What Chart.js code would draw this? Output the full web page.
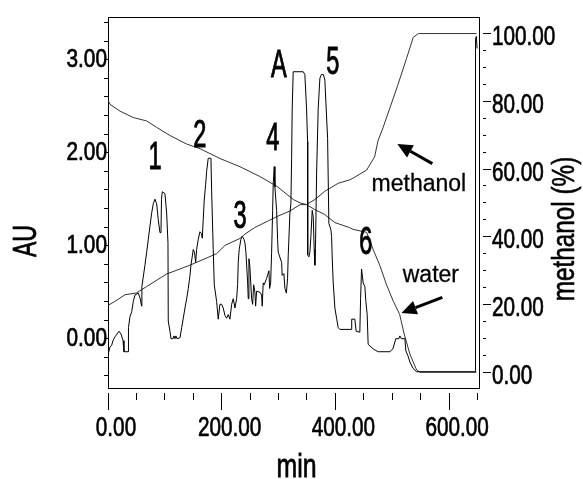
<!DOCTYPE html>
<html><head><meta charset="utf-8">
<script src="https://cdn.jsdelivr.net/npm/chart.js@4.4.1/dist/chart.umd.min.js"></script>
<style>html,body{margin:0;padding:0;background:#fff;}canvas{display:block;}</style>
</head><body>
<canvas id="c" width="583" height="479" style="width:583px;height:479px"></canvas>
<script>
// ---- data ----
const auTime = [
  0.5, 3.5, 6.5, 8.8, 12.3, 15.8, 19.3, 22.9, 26.4, 28.1,
  35.7, 36.0, 38.7, 41.7, 44.5, 47.5, 53.3, 56.3, 59.2, 59.6,
  65.0, 68.0, 70.9, 73.8, 76.8, 79.6, 82.6, 85.6, 88.4, 91.4,
  93.2, 94.1, 95.5, 100.2, 103.2, 105.5, 106.0, 109.0, 110.8, 114.3,
  116.0, 117.8, 119.5, 121.3, 126.6, 129.6, 132.4, 135.4, 138.4, 141.2,
  144.2, 145.9, 150.0, 152.1, 154.2, 155.9, 158.8, 161.7, 164.4, 165.8,
  167.5, 169.3, 171.8, 173.5, 176.3, 181.1, 182.3, 185.1, 186.9, 191.1,
  193.9, 196.9, 199.9, 202.7, 205.7, 208.7, 211.5, 214.5, 217.5, 220.3,
  223.3, 226.3, 228.0, 229.1, 230.8, 233.8, 236.1, 239.1, 240.9, 242.6,
  245.6, 246.7, 247.9, 249.6, 252.6, 254.4, 256.2, 258.4, 259.7, 261.4,
  267.2, 270.2, 271.3, 273.0, 274.8, 279.0, 283.1, 284.3, 286.1, 287.8,
  289.6, 290.6, 292.4, 293.6, 296.6, 298.3, 299.4, 305.4, 306.4, 309.4,
  311.2, 313.8, 315.9, 317.0, 320.0, 321.7, 323.0, 324.0, 325.8, 343.4,
  346.3, 349.3, 351.1, 351.3, 353.4, 355.1, 356.9, 359.2, 361.0, 362.7,
  363.9, 365.2, 366.9, 369.7, 372.7, 375.4, 378.9, 381.5, 383.3, 386.3,
  388.5, 392.1, 393.3, 394.3, 396.1, 399.1, 402.1, 404.9, 407.9, 428.5,
  428.7, 434.2, 436.5, 443.0, 444.3, 446.0, 448.8, 451.8, 453.6, 455.9,
  457.6, 466.4, 475.2, 495.8, 501.1, 506.3, 511.6, 513.4, 516.0, 522.2,
  523.9, 527.4, 531.0, 536.7, 542.7, 646.1, 646.5, 647.9, 649.3
];
const auValue = [
  -0.16, -0.09, -0.07, -0.02, 0.02, 0.05, 0.08, 0.05, -0.02, -0.14,
  -0.14, 0.12, 0.24, 0.29, 0.40, 0.47, 0.49, 0.44, 0.35, 0.56,
  0.79, 0.93, 1.07, 1.21, 1.35, 1.45, 1.50, 1.45, 1.28, 1.14,
  1.14, 1.50, 1.58, 1.56, 1.35, 1.03, 0.19, 0.08, 0.00, 0.00,
  0.03, 0.00, 0.03, 0.00, 0.01, 0.12, 0.22, 0.33, 0.43, 0.54,
  0.68, 0.79, 0.96, 0.93, 0.82, 0.96, 1.07, 1.15, 1.13, 1.08,
  1.28, 1.49, 1.66, 1.80, 1.94, 1.94, 1.59, 0.96, 0.58, 0.40,
  0.21, 0.37, 0.37, 0.33, 0.25, 0.22, 0.26, 0.21, 0.37, 0.43,
  0.33, 0.43, 0.58, 0.82, 0.96, 1.07, 1.10, 1.07, 1.03, 0.93,
  0.61, 0.43, 0.86, 0.77, 0.43, 0.37, 0.58, 0.50, 0.35, 0.51,
  0.50, 0.47, 0.35, 0.60, 0.58, 0.65, 0.73, 0.54, 0.60, 0.93,
  1.38, 1.66, 1.85, 1.63, 1.38, 1.07, 0.93, 0.82, 0.68, 0.70,
  0.54, 0.49, 0.65, 0.89, 1.35, 1.45, 1.94, 2.47, 2.87, 2.87,
  2.84, 2.47, 2.12, 0.90, 0.88, 0.93, 1.10, 1.38, 1.31, 0.96,
  0.79, 1.07, 1.77, 2.47, 2.80, 2.84, 2.84, 2.78, 2.54, 2.15,
  1.24, 1.17, 1.10, 0.89, 0.61, 0.33, 0.22, 0.12, 0.10, 0.10,
  0.21, 0.21, 0.08, 0.07, 0.43, 0.75, 0.60, 0.56, 0.40, 0.26,
  -0.06, -0.11, -0.14, -0.14, -0.11, 0.00, 0.00, 0.03, 0.00, 0.00,
  -0.13, -0.18, -0.25, -0.32, -0.355, -0.355, 3.22, 3.25, 3.12
];
const methanolTime = [0.5, 12, 30, 50, 68, 103, 144, 191, 206, 232, 241, 258, 282, 299, 320, 338, 349, 364, 381, 405, 425, 431, 455, 469, 475, 484, 496, 510, 525, 537, 546, 648];
const methanolPct  = [19.8, 20.9, 22.9, 23.4, 25.3, 29.0, 31.6, 35.0, 37.5, 39.5, 40.8, 42.7, 44.7, 46.1, 47.6, 49.5, 49.5, 51.0, 53.4, 55.8, 56.8, 57.3, 59.7, 63.6, 68.4, 72.3, 78.1, 84.9, 92.6, 98.9, 100, 100];
const waterTime = [0.5, 3.5, 21, 44.5, 68, 85.6, 109, 138, 162, 197, 232, 267, 297, 326, 338, 349, 364, 381, 399, 425, 431, 455, 466, 478, 490, 502, 513, 521, 531, 543, 549, 648];
const waterPct  = [80.2, 79.1, 77.1, 75.2, 74.2, 72.3, 69.9, 67.4, 66.0, 63.1, 60.7, 57.8, 54.9, 51.0, 50.0, 49.5, 48.0, 46.6, 44.2, 42.7, 42.2, 41.3, 36.4, 31.6, 25.8, 20.9, 17.1, 11.3, 5.4, 0.6, 0, 0];

// peak annotations (time in min, height in AU)
const peakLabels = ['1', '2', '3', '4', 'A', '5', '6'];
const peakLabelTime = [82.6, 161.7, 232.1, 290.1, 300.6, 395.6, 453.6];
const peakLabelAU = [1.97, 2.21, 1.34, 2.18, 2.96, 2.99, 1.06];
// solvent annotations (time in min, % on right axis)
const solventLabels = ['methanol', 'water'];
const solventLabelTime = [546.8, 567.9];
const solventLabelPct = [55.8, 29.2];
const arrowFromTime = [570.5, 588.1];
const arrowFromPct = [61.6, 22.1];
const arrowToTime = [509, 516.3];
const arrowToPct = [67.4, 17.5];

// axis texts
const xTitle = 'min';
const yTitle = 'AU';
const y1Title = 'methanol (%)';

const toXY = (xs, ys) => xs.map((t, i) => ({x: t, y: ys[i]}));
const FAM = '"Liberation Sans", Arial, sans-serif';
const tickFontBig = {family: FAM, size: 28};
const tickFontLeft = {family: FAM, size: 26};
const tickSqueeze = {x: 0.74, y: 0.8, y1: 0.74};

// draw the scale's own tick labels horizontally condensed (reference uses a condensed face)
const condensedTicks = {
  id: 'condensedTicks',
  beforeDraw(chart) {
    Object.keys(tickSqueeze).forEach(id => {
      const scale = chart.scales[id];
      if (!scale || scale._condensed) return;
      const orig = scale.drawLabels.bind(scale);
      const sx = tickSqueeze[id];
      scale.drawLabels = function (area) {
        let items;
        try { items = this.getLabelItems(area); } catch (e) { return orig(area); }
        if (!items || !items.length || !items[0].options || !items[0].options.translation) return orig(area);
        const ctx = this.ctx;
        for (const item of items) {
          if (!item.label) continue;
          const o = item.options;
          ctx.save();
          ctx.translate(o.translation[0], o.translation[1]);
          if (o.rotation) ctx.rotate(o.rotation);
          ctx.scale(sx, 1);
          ctx.font = item.font.string;
          ctx.fillStyle = o.color;
          ctx.strokeStyle = o.color;
          ctx.lineWidth = 0.7;
          ctx.textAlign = o.textAlign;
          ctx.textBaseline = o.textBaseline;
          ctx.fillText(String(item.label), 0, item.textOffset);
          ctx.strokeText(String(item.label), 0, item.textOffset);
          ctx.restore();
        }
      };
      scale._condensed = true;
    });
  }
};

const overlay = {
  id: 'overlay',
  afterDraw(chart) {
    const {ctx, scales: {x, y, y1}} = chart;
    ctx.save();
    ctx.fillStyle = '#000';
    ctx.strokeStyle = '#000';
    function paint(s, px, py, heavy) {
      ctx.fillText(s, px, py);
      if (heavy) { ctx.lineWidth = heavy; ctx.strokeText(s, px, py); }
    }
    function capText(s, cx, cy, size, sx, heavy) {
      ctx.save();
      ctx.translate(cx, cy);
      ctx.scale(sx, 1);
      ctx.font = size + 'px ' + FAM;
      ctx.textAlign = 'center';
      ctx.textBaseline = 'alphabetic';
      paint(s, 0, 0.358 * size, heavy);
      ctx.restore();
    }
    function rotText(s, bx, cy, size, sx, heavy) {
      ctx.save();
      ctx.translate(bx, cy);
      ctx.rotate(-Math.PI / 2);
      ctx.scale(sx, 1);
      ctx.font = size + 'px ' + FAM;
      ctx.textAlign = 'center';
      ctx.textBaseline = 'alphabetic';
      paint(s, 0, 0, heavy);
      ctx.restore();
    }
    function arrow(x0, y0, x1, y1p) {
      const ang = Math.atan2(y1p - y0, x1 - x0);
      const L = 15, W = 7;
      const bx = x1 - L * Math.cos(ang), by = y1p - L * Math.sin(ang);
      ctx.beginPath();
      ctx.moveTo(x0, y0);
      ctx.lineTo(bx, by);
      ctx.lineWidth = 3;
      ctx.stroke();
      ctx.beginPath();
      ctx.moveTo(x1, y1p);
      ctx.lineTo(bx + W * Math.sin(ang), by - W * Math.cos(ang));
      ctx.lineTo(bx - W * Math.sin(ang), by + W * Math.cos(ang));
      ctx.closePath();
      ctx.fill();
    }
    peakLabels.forEach((s, i) => {
      capText(s, x.getPixelForValue(peakLabelTime[i]), y.getPixelForValue(peakLabelAU[i]), 38, 0.62, 1);
    });
    solventLabels.forEach((s, i) => {
      capText(s, x.getPixelForValue(solventLabelTime[i]), y1.getPixelForValue(solventLabelPct[i]), 23, 1, 0.3);
    });
    arrowFromTime.forEach((t, i) => {
      arrow(x.getPixelForValue(t), y1.getPixelForValue(arrowFromPct[i]),
            x.getPixelForValue(arrowToTime[i]), y1.getPixelForValue(arrowToPct[i]));
    });
    // axis titles
    rotText(yTitle, y.left + 36, 241, 34, 0.68, 0.8);
    ctx.save();
    ctx.translate((x.left + x.right) / 2 + 3, 477);
    ctx.scale(0.73, 1);
    ctx.font = '34px ' + FAM;
    ctx.textAlign = 'center';
    ctx.textBaseline = 'alphabetic';
    paint(xTitle, 0, 0, 0.8);
    ctx.restore();
    rotText(y1Title, y1.left + 95, 229, 32, 0.76, 0.6);
    ctx.restore();
  }
};

const isInt = v => Math.abs(v - Math.round(v)) < 1e-6;

new Chart(document.getElementById('c'), {
  type: 'line',
  data: {
    datasets: [
      {label: 'AU', data: toXY(auTime, auValue), yAxisID: 'y', borderColor: '#000', borderWidth: 1, pointRadius: 0, tension: 0},
      {label: 'methanol', data: toXY(methanolTime, methanolPct), yAxisID: 'y1', borderColor: '#333', borderWidth: 1, pointRadius: 0, tension: 0},
      {label: 'water', data: toXY(waterTime, waterPct), yAxisID: 'y1', borderColor: '#333', borderWidth: 1, pointRadius: 0, tension: 0}
    ]
  },
  options: {
    responsive: false,
    animation: false,
    devicePixelRatio: 1,
    layout: {padding: 0},
    plugins: {legend: {display: false}, tooltip: {enabled: false}},
    scales: {
      x: {
        type: 'linear', position: 'bottom', min: 0, max: 652.6,
        afterFit(s) { s.height = 91; },
        border: {display: true, color: '#000', width: 1},
        grid: {drawOnChartArea: false, drawTicks: true, tickLength: 22, tickColor: '#000', tickWidth: 1,
          tickBorderDash: c => (c.tick && isInt(c.tick.value / 200)) ? [0, 4, 18, 100] : [0, 4, 7, 100]},
        ticks: {stepSize: 50, includeBounds: false, autoSkip: false, maxRotation: 0, minRotation: 0,
          color: '#000', font: tickFontBig, padding: 1, labelOffset: 8,
          callback: v => (isInt(v / 200) ? Math.round(v).toFixed(2) : '')}
      },
      xTop: {
        type: 'linear', position: 'top', min: 0, max: 652.6,
        afterFit(s) { s.height = 12; },
        border: {display: true, color: '#000', width: 1},
        grid: {display: true, drawOnChartArea: false, drawTicks: false},
        ticks: {display: false}
      },
      y: {
        type: 'linear', position: 'left', min: -0.53, max: 3.45,
        afterFit(s) { s.width = 108; },
        border: {display: true, color: '#000', width: 1},
        grid: {drawOnChartArea: false, tickLength: 4, tickColor: '#000', tickWidth: 1},
        ticks: {stepSize: 0.2, includeBounds: false, autoSkip: false, color: '#000', font: tickFontLeft, padding: -3,
          callback: v => (isInt(v) ? Math.round(v).toFixed(2) : '')}
      },
      y1: {
        type: 'linear', position: 'right', min: -4.65, max: 104.65,
        afterFit(s) { s.width = 104; },
        border: {display: true, color: '#000', width: 1},
        grid: {drawOnChartArea: false, tickLength: 12, tickColor: '#000', tickWidth: 1,
          tickBorderDash: c => (c.tick && isInt(c.tick.value / 20)) ? [0, 3, 9, 100] : [0, 3, 3, 100]},
        ticks: {stepSize: 5, includeBounds: false, autoSkip: false, color: '#000', font: tickFontBig, padding: 1, labelOffset: 4,
          callback: v => (isInt(v / 20) ? Math.round(v).toFixed(2) : '')}
      }
    }
  },
  plugins: [condensedTicks, overlay]
});
</script>
</body></html>
